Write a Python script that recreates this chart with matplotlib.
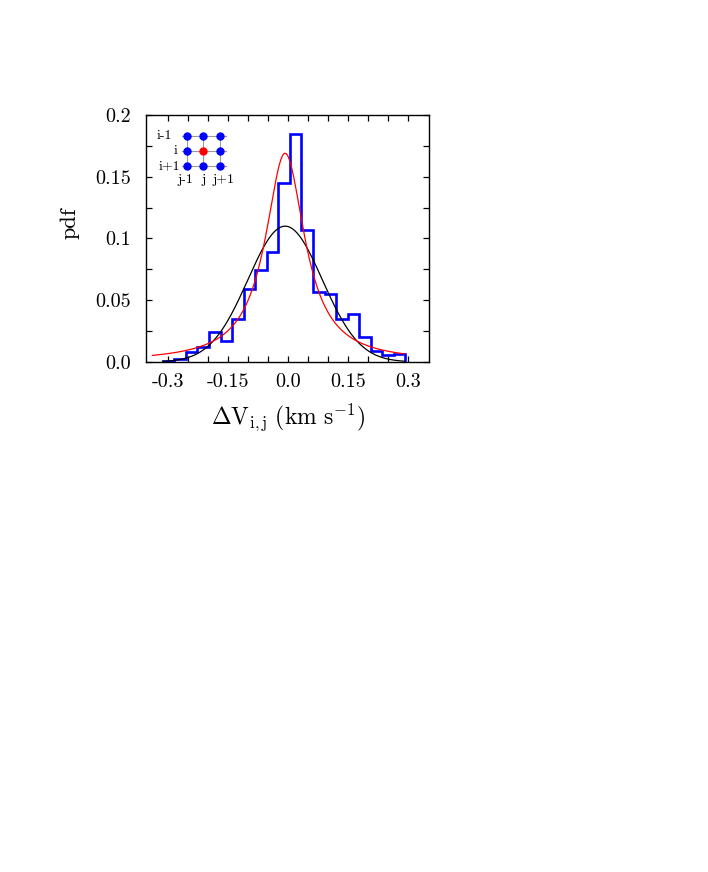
import numpy as np
import matplotlib
matplotlib.use('Agg')
import matplotlib.pyplot as plt

plt.rcParams['font.family'] = 'serif'
plt.rcParams['font.serif'] = ['cmr10']
plt.rcParams['mathtext.fontset'] = 'cm'
plt.rcParams['axes.unicode_minus'] = False

# histogram of velocity differences
bin_start = -0.314
bin_width = 0.0289
pdf_vals = [0.0010, 0.0025, 0.0080, 0.0122, 0.0243, 0.0168, 0.0346, 0.0595,
            0.0743, 0.0887, 0.1451, 0.1843, 0.1068, 0.0568, 0.0554, 0.0346,
            0.0392, 0.0200, 0.0092, 0.0055, 0.0068]

# gaussian fit (black) and lorentzian fit (red)
gauss_amp, gauss_mu, gauss_sig = 0.110, -0.008, 0.093
gauss_range = (-0.314, 0.291)
lor_amp, lor_x0, lor_gam = 0.169, -0.008, 0.060
lor_range = (-0.34, 0.291)

xticks = [-0.3, -0.25, -0.2, -0.15, -0.1, -0.05, 0.0, 0.05, 0.1, 0.15, 0.2, 0.25, 0.3]
xticklabels = ['-0.3', '', '', '-0.15', '', '', '0.0', '', '', '0.15', '', '', '0.3']
yticks = [0.0, 0.025, 0.05, 0.075, 0.1, 0.125, 0.15, 0.175, 0.2]
yticklabels = ['0.0', '', '0.05', '', '0.1', '', '0.15', '', '0.2']

# stencil inset
row_labels = ['i-1', 'i', 'i+1']
col_labels = ['j-1', 'j', 'j+1']

W, H = 708, 872
fig = plt.figure(figsize=(W / 100, H / 100), dpi=100)

def px_axes(x0, y0, x1, y1):
    return fig.add_axes([x0 / W, 1 - y1 / H, (x1 - x0) / W, (y1 - y0) / H])

ax = px_axes(146, 115, 429, 362)

edges = bin_start + bin_width * np.arange(len(pdf_vals) + 1)
ax.stairs(pdf_vals, edges, baseline=0, color='#0000ff', lw=1.9, zorder=3)

xg = np.linspace(*gauss_range, 400)
ax.plot(xg, gauss_amp * np.exp(-(xg - gauss_mu) ** 2 / (2 * gauss_sig ** 2)),
        color='black', lw=0.9, zorder=4)
xl = np.linspace(*lor_range, 400)
ax.plot(xl, lor_amp / (1 + ((xl - lor_x0) / lor_gam) ** 2),
        color='#ff0000', lw=0.9, zorder=5)

ax.set_xlim(-0.356, 0.352)
ax.set_ylim(0, 0.2)
ax.set_xticks(xticks)
ax.set_xticklabels(xticklabels)
ax.set_yticks(yticks)
ax.set_yticklabels(yticklabels)
ax.tick_params(direction='in', top=True, right=True, length=4.5, width=0.9,
               labelsize=14.5)
ax.tick_params(axis='x', pad=8)
ax.tick_params(axis='y', pad=11)
for s in ax.spines.values():
    s.set_linewidth(1.0)

ax.set_xlabel(r'$\Delta\mathrm{V}_{\mathrm{i,j}}\ (\mathrm{km\ s}^{\mathrm{-1}})$', fontsize=17)
ax.xaxis.set_label_coords((288 - 146) / 283, -(417 - 362) / 247)
ax.xaxis.label.set_va('center')
ax.set_ylabel('pdf', fontsize=16)
ax.yaxis.set_label_coords(-(146 - 70) / 283, (362 - 223) / 247)
ax.yaxis.label.set_va('center')

# inset: 3x3 stencil
ins = px_axes(150, 125, 235, 190)
ins.set_xlim((150 - 186.7) / 16.67, (235 - 186.7) / 16.67)
ins.set_ylim((190 - 135.7) / 15, (125 - 135.7) / 15)
ins.axis('off')
for k in range(3):
    ins.plot([-0.3, 2.36], [k, k], color='#9a9a9a', lw=0.8, zorder=1)
    ins.plot([k, k], [-0.21, 2.25], color='#9a9a9a', lw=0.8, zorder=1)
for r in range(3):
    for c in range(3):
        col = '#ff0000' if (r, c) == (1, 1) else '#0000ff'
        ins.plot(c, r, 'o', color=col, ms=5, mec=col, zorder=2)
for r, (lab, xr) in enumerate(zip(row_labels, [-0.86, -0.56, -0.36])):
    ins.text(xr, r, lab, ha='right', va='center', fontsize=10)
for c, (lab, xc) in enumerate(zip(col_labels, [-0.1, 1.0, 2.2])):
    ins.text(xc, 2.98, lab, ha='center', va='center', fontsize=10)

fig.savefig('out.png', dpi=100)
